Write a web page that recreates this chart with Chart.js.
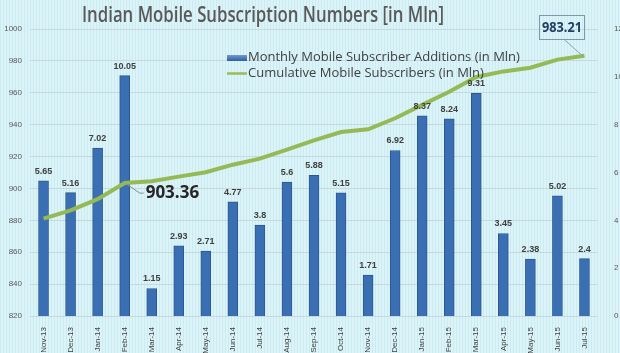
<!DOCTYPE html>
<html>
<head>
<meta charset="utf-8">
<script src="https://cdn.jsdelivr.net/npm/chart.js@4.4.0/dist/chart.umd.min.js"></script>
<style>
  html, body { margin: 0; padding: 0; background: #fff; }
  #wrap { width: 620px; height: 353px; }
</style>
</head>
<body>
<div id="wrap"><canvas id="chart" width="620" height="353"></canvas></div>
<script>
var months = ["Nov-13", "Dec-13", "Jan-14", "Feb-14", "Mar-14", "Apr-14", "May-14", "Jun-14",
  "Jul-14", "Aug-14", "Sep-14", "Oct-14", "Nov-14", "Dec-14", "Jan-15", "Feb-15", "Mar-15",
  "Apr-15", "May-15", "Jun-15", "Jul-15"];
var monthlyAdds = [5.65, 5.16, 7.02, 10.05, 1.15, 2.93, 2.71, 4.77, 3.8, 5.6, 5.88, 5.15,
  1.71, 6.92, 8.37, 8.24, 9.31, 3.45, 2.38, 5.02, 2.4];
var cumulative = [881.1, 886.3, 893.3, 903.36, 904.5, 907.4, 910.2, 914.9, 918.7, 924.3, 930.2,
  935.4, 937.1, 944.0, 952.4, 960.6, 969.9, 973.4, 975.7, 980.8, 983.21];
var leftTicks = [820, 840, 860, 880, 900, 920, 940, 960, 980, 1000];
var rightTicks = [0, 2, 4, 6, 8, 10, 12];

var ctx = document.getElementById('chart').getContext('2d');

// striped light cyan background
var pat = document.createElement('canvas');
pat.width = 3; pat.height = 1;
var pc = pat.getContext('2d');
pc.fillStyle = '#dcf4f8'; pc.fillRect(0, 0, 3, 1);
pc.fillStyle = '#c9ebf1'; pc.fillRect(0, 0, 1, 1);
var stripes = ctx.createPattern(pat, 'repeat');

var bgPlugin = {
  id: 'bg',
  beforeDraw: function(chart) {
    var c = chart.ctx;
    c.save();
    c.fillStyle = stripes;
    c.fillRect(0, 0, chart.width, chart.height);
    c.restore();
  }
};

var extras = {
  id: 'extras',
  afterDatasetsDraw: function(chart) {
    var c = chart.ctx;
    c.save();
    // bar value labels
    var bars = chart.getDatasetMeta(0).data;
    c.font = 'bold 9px "Liberation Sans"';
    c.fillStyle = '#404040';
    c.textAlign = 'center';
    c.textBaseline = 'bottom';
    bars.forEach(function(b, i) {
      c.fillText(String(monthlyAdds[i]), b.x, b.y - 5);
    });

    var pts = chart.getDatasetMeta(1).data;
    // 903.36 callout
    var p = pts[3];
    c.strokeStyle = '#8c8c8c';
    c.lineWidth = 1;
    c.beginPath();
    c.moveTo(p.x + 2, p.y + 1);
    c.lineTo(p.x + 15, p.y + 10);
    c.lineTo(p.x + 19, p.y + 10);
    c.stroke();
    c.font = 'bold 17px "Open Sans"';
    c.fillStyle = '#262626';
    c.textAlign = 'left';
    c.textBaseline = 'middle';
    c.fillText(cumulative[3].toFixed(2), p.x + 21, p.y + 10);

    // 983.21 boxed callout
    var q = pts[pts.length - 1];
    c.strokeStyle = '#8ca4b8';
    c.beginPath();
    c.moveTo(q.x - 2, q.y);
    c.lineTo(q.x - 20, q.y - 16);
    c.stroke();
    c.strokeStyle = '#7f97aa';
    c.strokeRect(539.5, 15.5, 45, 24);
    c.font = 'bold 15px "Open Sans"';
    c.fillStyle = '#1f3f66';
    c.textAlign = 'center';
    c.fillText(cumulative[cumulative.length - 1].toFixed(2), 562, 28, 40);
    c.restore();
  },
  afterDraw: function(chart) {
    var c = chart.ctx;
    c.save();
    // title
    c.font = '600 21px "Open Sans"';
    c.fillStyle = '#595959';
    c.textAlign = 'center';
    c.textBaseline = 'middle';
    c.fillText('Indian Mobile Subscription Numbers [in Mln]', 263, 16, 362);
    // legend
    var ds = chart.data.datasets;
    var gr = c.createLinearGradient(0, 55, 0, 61);
    gr.addColorStop(0, '#6f9bd1');
    gr.addColorStop(1, '#2f5e9c');
    c.fillStyle = gr;
    c.fillRect(227, 55, 20, 6);
    c.strokeStyle = '#9bbb59';
    c.lineWidth = 2.5;
    c.beginPath();
    c.moveTo(227, 73.5);
    c.lineTo(247, 73.5);
    c.stroke();
    c.font = '13px "Open Sans"';
    c.fillStyle = '#404040';
    c.textAlign = 'left';
    c.fillText(ds[0].label, 248, 57);
    c.fillText(ds[1].label, 248, 73);
    c.restore();
  }
};

var barColor = function(context) {
  var el = context.element;
  if (!el || el.x === undefined) return '#3a70b3';
  var g = context.chart.ctx.createLinearGradient(el.x - 5, 0, el.x + 5, 0);
  g.addColorStop(0, '#2c5a95');
  g.addColorStop(0.45, '#5590d4');
  g.addColorStop(1, '#2c5a95');
  return g;
};

var tickFont = { size: 8, family: '"Liberation Sans"' };
var plain = function(v) { return String(v); };

new Chart(ctx, {
  type: 'bar',
  data: {
    labels: months,
    datasets: [{
        type: 'bar',
        label: 'Monthly Mobile Subscriber Additions (in Mln)',
        data: monthlyAdds,
        yAxisID: 'y1',
        backgroundColor: barColor,
        borderColor: '#2a5791',
        borderWidth: 1,
        barThickness: 10,
        order: 2
      },
      {
        type: 'line',
        label: 'Cumulative Mobile Subscribers (in Mln)',
        data: cumulative,
        yAxisID: 'y',
        borderColor: '#94b955',
        borderWidth: 4,
        pointRadius: 0,
        tension: 0,
        order: 1
      }
    ]
  },
  options: {
    responsive: false,
    animation: false,
    layout: { padding: { top: 29, left: 0, right: 0, bottom: 0 } },
    plugins: {
      legend: { display: false },
      title: { display: false },
      tooltip: { enabled: false }
    },
    scales: {
      x: {
        grid: { display: false },
        border: { display: false },
        ticks: {
          minRotation: 90, maxRotation: 90,
          font: tickFont,
          color: '#404040',
          padding: 3
        },
        afterFit: function(s) { s.height = 37; }
      },
      y: {
        position: 'left',
        min: 820, max: 1000,
        afterBuildTicks: function(s) { s.ticks = leftTicks.map(function(v) { return { value: v }; }); },
        grid: { color: '#c6d9de', drawTicks: false },
        border: { display: false },
        ticks: { font: tickFont, color: '#595959', padding: 8, callback: plain },
        afterFit: function(s) { s.width = 30; }
      },
      y1: {
        position: 'right',
        min: 0, max: 12,
        afterBuildTicks: function(s) { s.ticks = rightTicks.map(function(v) { return { value: v }; }); },
        grid: { display: false },
        border: { display: false },
        ticks: { font: tickFont, color: '#595959', padding: 8, callback: plain },
        afterFit: function(s) { s.width = 22; }
      }
    }
  },
  plugins: [bgPlugin, extras]
});
</script>
</body>
</html>
